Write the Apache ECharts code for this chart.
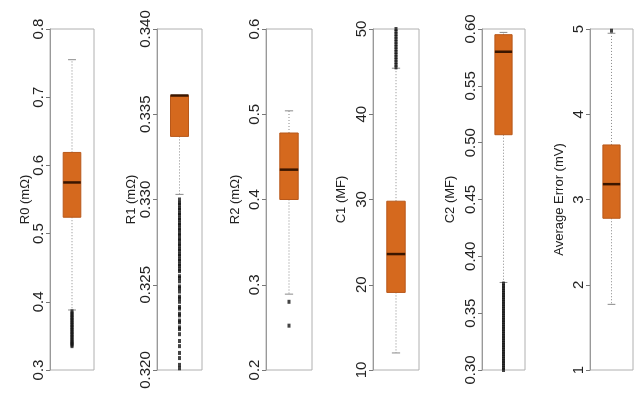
<!DOCTYPE html>
<html><head><meta charset="utf-8">
<script src="https://cdn.jsdelivr.net/npm/echarts@6/dist/echarts.min.js"></script>
<style>html,body{margin:0;padding:0;background:#fff}#c{width:639px;height:395px}</style>
</head><body><div id="c"></div>
<script>
// ---- data ----
const axisNames = ['R0 (mΩ)', 'R1 (mΩ)', 'R2 (mΩ)', 'C1 (MF)', 'C2 (MF)', 'Average Error (mV)'];
const axisMin = [0.3, 0.320, 0.2, 10, 0.30, 1];
const axisMax = [0.8, 0.340, 0.6, 50, 0.60, 5];
const axisStep = [0.1, 0.005, 0.1, 10, 0.05, 1];
const labelDecimals = [1, 3, 1, 0, 2, 0];
// [lower whisker, Q1, median, Q3, upper whisker]
const statsR0 = [0.388, 0.524, 0.575, 0.619, 0.755];
const statsR1 = [0.3303, 0.3337, 0.3361, 0.3361, 0.3361];
const statsR2 = [0.289, 0.400, 0.435, 0.478, 0.504];
const statsC1 = [12.0, 19.1, 23.6, 29.8, 45.4];
const statsC2 = [0.377, 0.507, 0.580, 0.595, 0.597];
const statsErr = [1.77, 2.78, 3.18, 3.64, 4.95];
// outliers
const outR0 = [0.386, 0.383, 0.381, 0.378, 0.376, 0.373, 0.371, 0.368, 0.366, 0.363, 0.361, 0.358, 0.356, 0.353, 0.351, 0.348, 0.346, 0.343, 0.341, 0.339, 0.337, 0.335];
const outR1 = [0.3300, 0.3298, 0.3297, 0.3295, 0.3294, 0.3292, 0.3291, 0.3289, 0.3288, 0.3286, 0.3285, 0.3283, 0.3282, 0.3280, 0.3279, 0.3277, 0.3276, 0.3274, 0.3273, 0.3271, 0.3270, 0.3268, 0.3267, 0.3265, 0.3264, 0.3262, 0.3261, 0.3259, 0.3258,
  0.3255, 0.3254, 0.3252, 0.3249, 0.3248, 0.3246, 0.3243, 0.3242, 0.3240, 0.3237, 0.3236, 0.3233, 0.3232, 0.3229, 0.3228, 0.3225, 0.3224, 0.3221,
  0.3217, 0.3214, 0.3210, 0.3207, 0.3203, 0.3201];
const outR2 = [0.280, 0.252];
const outC1 = [50.0, 49.7, 49.4, 49.1, 48.8, 48.5, 48.2, 47.9, 47.6, 47.3, 47.0, 46.7, 46.4, 46.1, 45.8, 45.5];
const outC2 = [0.376, 0.374, 0.372, 0.370, 0.368, 0.366, 0.364, 0.362, 0.360, 0.358, 0.356, 0.354, 0.352, 0.350, 0.348, 0.346, 0.344, 0.342, 0.340, 0.338, 0.336, 0.334, 0.332, 0.330, 0.328, 0.326, 0.324, 0.322, 0.320, 0.318, 0.316, 0.314, 0.312, 0.310, 0.308, 0.306, 0.304, 0.302, 0.300];
const outErr = [4.98];

const allStats = [statsR0, statsR1, statsR2, statsC1, statsC2, statsErr];
const allOut = [outR0, outR1, outR2, outC1, outC2, outErr];

// ---- layout ----
const gridLeft = [50, 157, 266, 373, 482, 590];
const gridWidth = [44, 45, 46, 46, 43, 43];
const nameGaps = [18, 19, 24, 25, 25, 24];
const FONT = 'Liberation Sans, Arial, sans-serif';

function renderBox(params, api) {
  const x = api.value(0);
  const lo = api.coord([x, api.value(1)]);
  const q1 = api.coord([x, api.value(2)]);
  const med = api.coord([x, api.value(3)]);
  const q3 = api.coord([x, api.value(4)]);
  const hi = api.coord([x, api.value(5)]);
  const band = api.size([1, 0])[0];
  const bw = band * 0.4;
  const cw = bw * 0.45;
  const cx = q1[0];
  const wStyle = { stroke: '#8a8a8a', lineWidth: 1, lineDash: [1, 2] };
  const cStyle = { stroke: '#8a8a8a', lineWidth: 1 };
  return { type: 'group', children: [
    { type: 'line', shape: { x1: cx, y1: q3[1], x2: cx, y2: hi[1] }, style: wStyle },
    { type: 'line', shape: { x1: cx, y1: q1[1], x2: cx, y2: lo[1] }, style: wStyle },
    { type: 'line', shape: { x1: cx - cw / 2, y1: hi[1], x2: cx + cw / 2, y2: hi[1] }, style: cStyle },
    { type: 'line', shape: { x1: cx - cw / 2, y1: lo[1], x2: cx + cw / 2, y2: lo[1] }, style: cStyle },
    { type: 'rect', shape: { x: cx - bw / 2, y: q3[1], width: bw, height: q1[1] - q3[1] }, style: { fill: '#d5691e', stroke: '#b8581a', lineWidth: 1 } },
    { type: 'line', shape: { x1: cx - bw / 2, y1: med[1], x2: cx + bw / 2, y2: med[1] }, style: { stroke: '#3a1600', lineWidth: 2.5 } }
  ]};
}

const grids = [], xAxes = [], yAxes = [], series = [];
for (let i = 0; i < 6; i++) {
  grids.push({ left: gridLeft[i], width: gridWidth[i], top: 29, height: 341, show: true, borderColor: '#b0b0b0', borderWidth: 1, backgroundColor: '#fff' });
  xAxes.push({ type: 'category', gridIndex: i, data: [''], show: false, boundaryGap: true });
  const dec = labelDecimals[i];
  yAxes.push({
    type: 'value', gridIndex: i, min: axisMin[i], max: axisMax[i], interval: axisStep[i],
    name: axisNames[i], nameLocation: 'middle', nameRotate: 90, nameGap: nameGaps[i],
    nameMoveOverlap: false,
    nameTextStyle: { fontFamily: FONT, fontSize: 13, color: '#222' },
    axisLine: { show: true, lineStyle: { color: '#999', width: 1 } },
    axisTick: { show: true, length: 4, lineStyle: { color: '#777' } },
    axisLabel: { rotate: 90, margin: 4, fontFamily: FONT, fontSize: 15, color: '#222',
      formatter: v => Number(v).toFixed(dec) },
    splitLine: { show: false }
  });
  series.push({
    type: 'custom', xAxisIndex: i, yAxisIndex: i, renderItem: renderBox,
    encode: { x: 0, y: [1, 2, 3, 4, 5] },
    data: [[0].concat(allStats[i])], z: 2, silent: true
  });
  series.push({
    type: 'scatter', xAxisIndex: i, yAxisIndex: i, symbol: 'rect', symbolSize: [3, 4],
    itemStyle: { color: '#151515' }, data: allOut[i].map(v => [0, v]), z: 3, silent: true
  });
}

const chart = echarts.init(document.getElementById('c'), null, { renderer: 'canvas' });
chart.setOption({ animation: false, backgroundColor: '#fff', grid: grids, xAxis: xAxes, yAxis: yAxes, series: series });
</script>
</body></html>
